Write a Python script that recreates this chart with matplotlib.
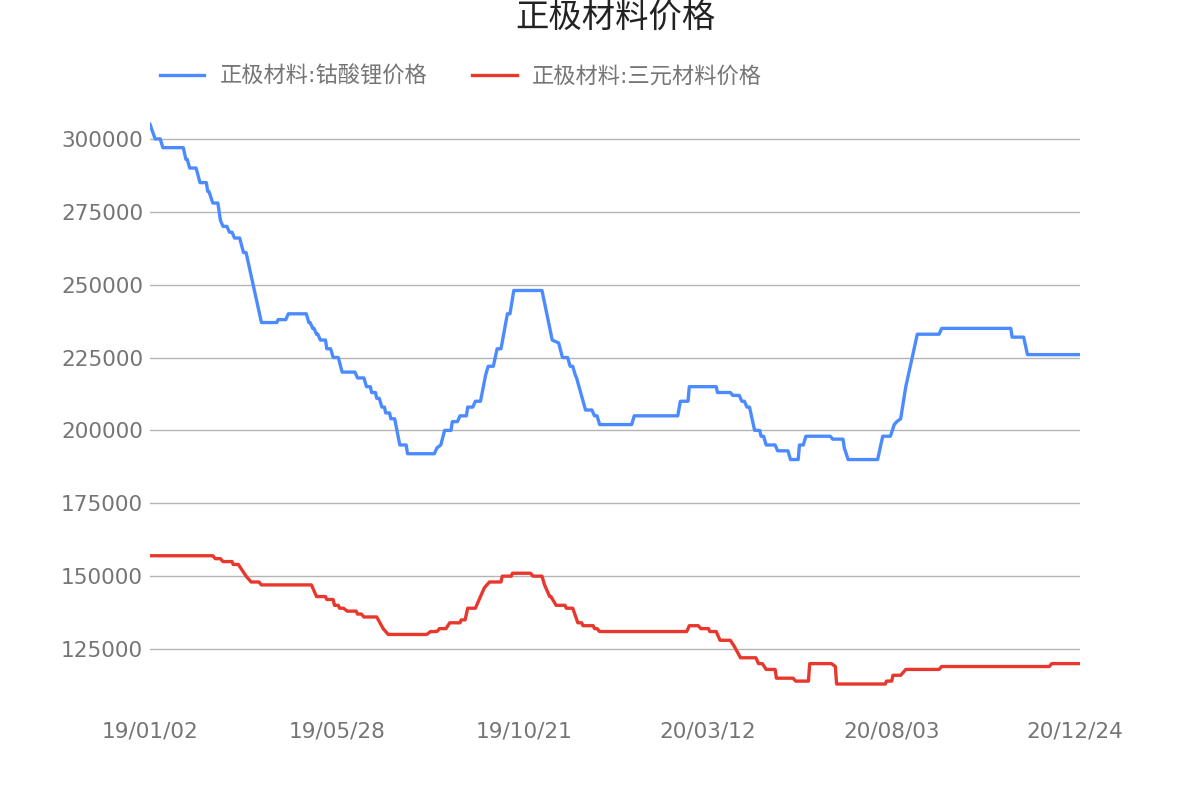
import matplotlib
matplotlib.use("Agg")
import matplotlib.pyplot as plt
import matplotlib.dates as mdates
import pandas as pd

# ── Data
TITLE = "正极材料价格"
BLUE_NAME = "正极材料:钴酸锂价格"
RED_NAME = "正极材料:三元材料价格"

BLUE_DATES = [
    "2019-01-02", "2019-01-06", "2019-01-10", "2019-01-12", "2019-01-28", "2019-01-30",
    "2019-01-31", "2019-02-02", "2019-02-07", "2019-02-10", "2019-02-15", "2019-02-16",
    "2019-02-17", "2019-02-20", "2019-02-24", "2019-02-26", "2019-02-28", "2019-03-03",
    "2019-03-05", "2019-03-07", "2019-03-09", "2019-03-13", "2019-03-16", "2019-03-18",
    "2019-03-30", "2019-04-11", "2019-04-12", "2019-04-18", "2019-04-20", "2019-05-04",
    "2019-05-06", "2019-05-07", "2019-05-09", "2019-05-10", "2019-05-12", "2019-05-13",
    "2019-05-15", "2019-05-19", "2019-05-20", "2019-05-23", "2019-05-25", "2019-05-29",
    "2019-06-01", "2019-06-11", "2019-06-13", "2019-06-18", "2019-06-20", "2019-06-23",
    "2019-06-24", "2019-06-27", "2019-06-28", "2019-06-30", "2019-07-02", "2019-07-04",
    "2019-07-05", "2019-07-08", "2019-07-09", "2019-07-12", "2019-07-16", "2019-07-21",
    "2019-07-22", "2019-08-12", "2019-08-14", "2019-08-17", "2019-08-20", "2019-08-25",
    "2019-08-26", "2019-08-30", "2019-09-01", "2019-09-06", "2019-09-07", "2019-09-11",
    "2019-09-13", "2019-09-17", "2019-09-21", "2019-09-23", "2019-09-27", "2019-09-30",
    "2019-10-03", "2019-10-08", "2019-10-10", "2019-10-13", "2019-11-04", "2019-11-12",
    "2019-11-17", "2019-11-20", "2019-11-24", "2019-11-26", "2019-11-28", "2019-11-30",
    "2019-12-01", "2019-12-08", "2019-12-13", "2019-12-15", "2019-12-17", "2019-12-19",
    "2020-01-13", "2020-01-15", "2020-02-18", "2020-02-20", "2020-02-26", "2020-02-27",
    "2020-03-19", "2020-03-20", "2020-03-30", "2020-04-01", "2020-04-06", "2020-04-08",
    "2020-04-10", "2020-04-12", "2020-04-14", "2020-04-18", "2020-04-22", "2020-04-23",
    "2020-04-25", "2020-04-27", "2020-05-04", "2020-05-06", "2020-05-14", "2020-05-16",
    "2020-05-22", "2020-05-23", "2020-05-26", "2020-05-28", "2020-06-16", "2020-06-18",
    "2020-06-26", "2020-06-27", "2020-06-30", "2020-07-23", "2020-07-27", "2020-08-02",
    "2020-08-05", "2020-08-07", "2020-08-10", "2020-08-14", "2020-08-23", "2020-09-09",
    "2020-09-11", "2020-11-04", "2020-11-05", "2020-11-14", "2020-11-17", "2020-12-28",
]
BLUE_VALUES = [
    305000, 300000, 300000, 297000, 297000, 293000,
    293000, 290000, 290000, 285000, 285000, 282000,
    282000, 278000, 278000, 272000, 270000, 270000,
    268000, 268000, 266000, 266000, 261000, 261000,
    237000, 237000, 238000, 238000, 240000, 240000,
    237000, 237000, 235000, 235000, 233000, 233000,
    231000, 231000, 228000, 228000, 225000, 225000,
    220000, 220000, 218000, 218000, 215000, 215000,
    213000, 213000, 211000, 211000, 208000, 208000,
    206000, 206000, 204000, 204000, 195000, 195000,
    192000, 192000, 194000, 195000, 200000, 200000,
    203000, 203000, 205000, 205000, 208000, 208000,
    210000, 210000, 219000, 222000, 222000, 228000,
    228000, 240000, 240000, 248000, 248000, 231000,
    230000, 225000, 225000, 222000, 222000, 219000,
    218000, 207000, 207000, 205000, 205000, 202000,
    202000, 205000, 205000, 210000, 210000, 215000,
    215000, 213000, 213000, 212000, 212000, 210000,
    210000, 208000, 208000, 200000, 200000, 198000,
    198000, 195000, 195000, 193000, 193000, 190000,
    190000, 195000, 195000, 198000, 198000, 197000,
    197000, 194000, 190000, 190000, 198000, 198000,
    202000, 203000, 204000, 215000, 233000, 233000,
    235000, 235000, 232000, 232000, 226000, 226000,
]

RED_DATES = [
    "2019-01-02", "2019-02-20", "2019-02-22", "2019-02-26", "2019-02-28", "2019-03-07",
    "2019-03-08", "2019-03-12", "2019-03-18", "2019-03-22", "2019-03-28", "2019-03-30",
    "2019-05-08", "2019-05-12", "2019-05-19", "2019-05-20", "2019-05-25", "2019-05-26",
    "2019-05-29", "2019-05-30", "2019-06-02", "2019-06-05", "2019-06-12", "2019-06-13",
    "2019-06-16", "2019-06-18", "2019-06-28", "2019-07-03", "2019-07-07", "2019-08-06",
    "2019-08-09", "2019-08-14", "2019-08-16", "2019-08-21", "2019-08-24", "2019-09-01",
    "2019-09-02", "2019-09-05", "2019-09-07", "2019-09-13", "2019-09-15", "2019-09-18",
    "2019-09-20", "2019-09-24", "2019-10-03", "2019-10-04", "2019-10-11", "2019-10-12",
    "2019-10-26", "2019-10-28", "2019-11-04", "2019-11-06", "2019-11-10", "2019-11-11",
    "2019-11-15", "2019-11-22", "2019-11-23", "2019-11-28", "2019-12-02", "2019-12-05",
    "2019-12-06", "2019-12-14", "2019-12-15", "2019-12-17", "2019-12-19", "2020-02-25",
    "2020-02-27", "2020-03-05", "2020-03-07", "2020-03-13", "2020-03-14", "2020-03-19",
    "2020-03-22", "2020-03-30", "2020-04-02", "2020-04-07", "2020-04-19", "2020-04-21",
    "2020-04-24", "2020-04-27", "2020-05-04", "2020-05-05", "2020-05-18", "2020-05-20",
    "2020-05-30", "2020-05-31", "2020-06-17", "2020-06-20", "2020-06-21", "2020-07-29",
    "2020-07-30", "2020-08-03", "2020-08-04", "2020-08-10", "2020-08-12", "2020-08-14",
    "2020-09-09", "2020-09-11", "2020-12-04", "2020-12-06", "2020-12-28",
]
RED_VALUES = [
    157000, 157000, 156000, 156000, 155000, 155000,
    154000, 154000, 150000, 148000, 148000, 147000,
    147000, 143000, 143000, 142000, 142000, 140000,
    140000, 139000, 139000, 138000, 138000, 137000,
    137000, 136000, 136000, 132000, 130000, 130000,
    131000, 131000, 132000, 132000, 134000, 134000,
    135000, 135000, 139000, 139000, 141000, 144000,
    146000, 148000, 148000, 150000, 150000, 151000,
    151000, 150000, 150000, 147000, 143000, 143000,
    140000, 140000, 139000, 139000, 134000, 134000,
    133000, 133000, 132000, 132000, 131000, 131000,
    133000, 133000, 132000, 132000, 131000, 131000,
    128000, 128000, 126000, 122000, 122000, 120000,
    120000, 118000, 118000, 115000, 115000, 114000,
    114000, 120000, 120000, 119000, 113000, 113000,
    114000, 114000, 116000, 116000, 117000, 118000,
    118000, 119000, 119000, 120000, 120000,
]

TICK_DATES = ["2019-01-02", "2019-05-28", "2019-10-21", "2020-03-12", "2020-08-03", "2020-12-24"]
Y_TICKS = [125000, 150000, 175000, 200000, 225000, 250000, 275000, 300000]

# ── Style
BLUE = "#4B8BFF"
RED = "#E8372C"
TEXT_GRAY = "#757575"
GRID_GRAY = "#B4B4B4"

plt.rcParams["font.family"] = ["DejaVu Sans", "Noto Sans CJK SC"]

fig = plt.figure(figsize=(12, 8), dpi=100)
ax = fig.add_axes([0.125, 0.11875, 0.775, 0.7375])

ax.plot(pd.to_datetime(BLUE_DATES), BLUE_VALUES, color=BLUE, lw=2.4,
        label=BLUE_NAME, solid_joinstyle="round")
ax.plot(pd.to_datetime(RED_DATES), RED_VALUES, color=RED, lw=2.4,
        label=RED_NAME, solid_joinstyle="round")

ax.set_xlim(pd.Timestamp("2019-01-02"), pd.Timestamp("2020-12-28"))
ax.set_ylim(105800, 308200)

ax.set_xticks(pd.to_datetime(TICK_DATES))
ax.xaxis.set_major_formatter(mdates.DateFormatter("%y/%m/%d"))
ax.set_yticks(Y_TICKS)
ax.yaxis.set_major_formatter(matplotlib.ticker.FuncFormatter(lambda v, p: f"{int(v)}"))

ax.tick_params(axis="both", length=0, labelsize=15.6, labelcolor=TEXT_GRAY)
ax.tick_params(axis="x", pad=12)
ax.tick_params(axis="y", pad=5)

ax.grid(axis="y", color=GRID_GRAY, lw=1)
ax.set_axisbelow(True)
for s in ax.spines.values():
    s.set_visible(False)

# ── Title & legend
fig.text(615 / 1200, 1 - 18 / 800, TITLE, ha="center", va="center",
         fontsize=24, color="#222222")

leg = fig.legend(loc="center left", bbox_to_anchor=(160 / 1200, 1 - 76 / 800),
                 ncol=2, frameon=False, fontsize=16, borderpad=0, borderaxespad=0,
                 handlelength=2.0, handletextpad=0.7, columnspacing=2.0)
for t in leg.get_texts():
    t.set_color(TEXT_GRAY)

fig.savefig("out.png", dpi=100)
